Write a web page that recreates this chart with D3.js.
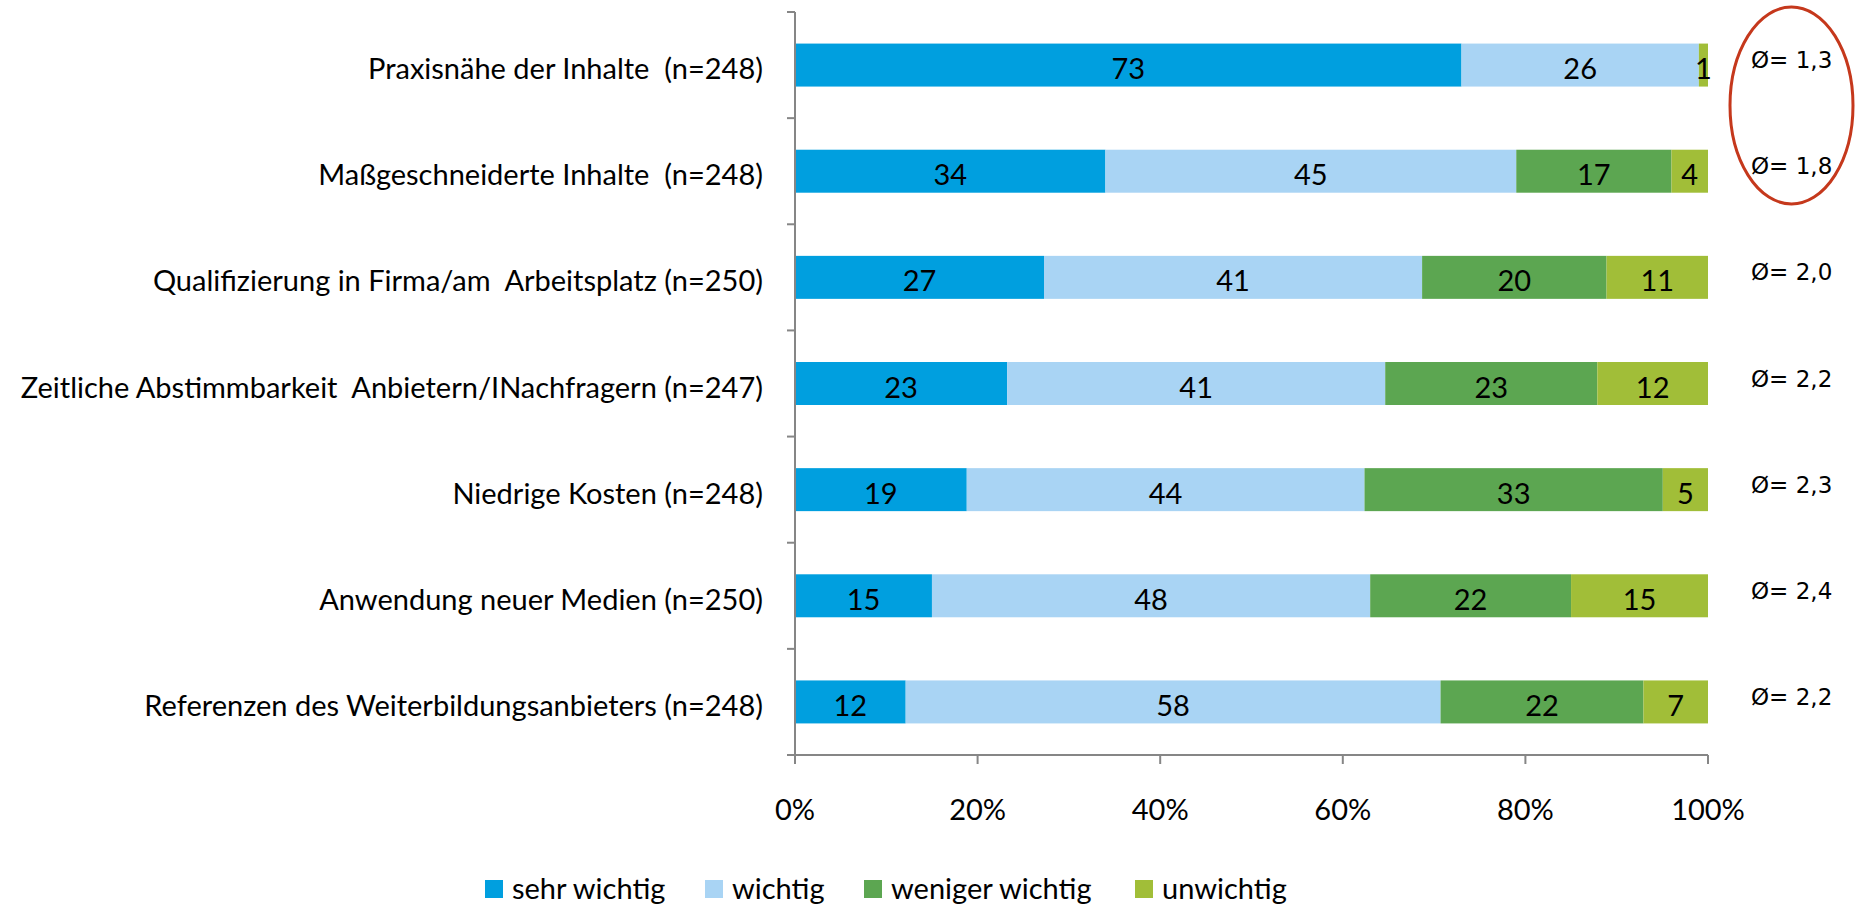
<!DOCTYPE html>
<html>
<head>
<meta charset="utf-8">
<script src="https://cdn.jsdelivr.net/npm/d3@7"></script>
<style>
  body { margin: 0; background: #fff; }
  text { font-family: Lato, "Open Sans", sans-serif; fill: #000; white-space: pre; }
</style>
</head>
<body>
<div class="chart"></div>
<script>
const categories = [
    "Praxisnähe der Inhalte  (n=248)",
    "Maßgeschneiderte Inhalte  (n=248)",
    "Qualifizierung in Firma/am  Arbeitsplatz (n=250)",
    "Zeitliche Abstimmbarkeit  Anbietern/INachfragern (n=247)",
    "Niedrige Kosten (n=248)",
    "Anwendung neuer Medien (n=250)",
    "Referenzen des Weiterbildungsanbieters (n=248)"
];
const seriesNames = ["sehr wichtig", "wichtig", "weniger wichtig", "unwichtig"];
const sehrWichtig = [73, 34, 27, 23, 19, 15, 12];
const wichtig = [26, 45, 41, 41, 44, 48, 58];
const wenigerWichtig = [0, 17, 20, 23, 33, 22, 22];
const unwichtig = [1, 4, 11, 12, 5, 15, 7];
const averages = ["1,3", "1,8", "2,0", "2,2", "2,3", "2,4", "2,2"];
const xTicks = [0, 0.2, 0.4, 0.6, 0.8, 1];
const colors = ["#009fdf", "#a9d4f4", "#5ca651", "#a1be38"];

const width = 1856;
const height = 909;
const fontSize = 29;
const svg = d3.select(".chart")
    .append("svg")
    .attr("width", width)
    .attr("height", height);

const rows = categories.map((c, i) => ({
    cat: c,
    "sehr wichtig": sehrWichtig[i],
    "wichtig": wichtig[i],
    "weniger wichtig": wenigerWichtig[i],
    "unwichtig": unwichtig[i]
}));

const stack = d3.stack()
    .keys(seriesNames)
    .offset(d3.stackOffsetExpand);
const layers = stack(rows);

const plotTop = 12, plotBottom = 755;
const x = d3.scaleLinear().domain([0, 1]).range([795, 1708]);
const y = d3.scaleBand().domain(categories).range([plotTop, plotBottom])
    .paddingInner(0.595).paddingOuter(0.2975);
const color = d3.scaleOrdinal().domain(seriesNames).range(colors);

// bars
const layer = svg.selectAll("g.layer")
    .data(layers)
    .join("g")
    .attr("class", "layer")
    .attr("fill", d => color(d.key));

layer.selectAll("rect")
    .data(d => d)
    .join("rect")
    .attr("x", d => x(d[0]))
    .attr("y", d => y(d.data.cat))
    .attr("width", d => x(d[1]) - x(d[0]))
    .attr("height", y.bandwidth());

// value labels
layer.selectAll("text")
    .data(d => d.map(v => ({v: v, key: d.key})).filter(o => o.v.data[o.key] > 0))
    .join("text")
    .attr("x", o => (x(o.v[0]) + x(o.v[1])) / 2)
    .attr("y", o => y(o.v.data.cat) + y.bandwidth() / 2 + 14)
    .attr("text-anchor", "middle")
    .attr("font-size", fontSize)
    .text(o => o.v.data[o.key]);

// axes
const axisColor = "#868686";
const step = y.step();
svg.append("line")
    .attr("x1", x(0)).attr("x2", x(0))
    .attr("y1", plotTop).attr("y2", plotBottom)
    .attr("stroke", axisColor).attr("stroke-width", 2);
svg.selectAll("line.ytick")
    .data(d3.range(categories.length + 1))
    .join("line")
    .attr("class", "ytick")
    .attr("x1", x(0) - 8).attr("x2", x(0))
    .attr("y1", i => plotTop + i * step).attr("y2", i => plotTop + i * step)
    .attr("stroke", axisColor).attr("stroke-width", 2);

svg.append("line")
    .attr("x1", x(0) - 8).attr("x2", x(1))
    .attr("y1", plotBottom).attr("y2", plotBottom)
    .attr("stroke", axisColor).attr("stroke-width", 2);
svg.selectAll("line.xtick")
    .data(xTicks)
    .join("line")
    .attr("class", "xtick")
    .attr("x1", d => x(d)).attr("x2", d => x(d))
    .attr("y1", plotBottom).attr("y2", plotBottom + 9)
    .attr("stroke", axisColor).attr("stroke-width", 2);
svg.selectAll("text.xlabel")
    .data(xTicks)
    .join("text")
    .attr("class", "xlabel")
    .attr("x", d => x(d))
    .attr("y", 820)
    .attr("text-anchor", "middle")
    .attr("font-size", fontSize)
    .text(d => d3.format(".0%")(d));

// category labels
svg.selectAll("text.cat")
    .data(categories)
    .join("text")
    .attr("class", "cat")
    .attr("x", 763)
    .attr("y", d => y(d) + y.bandwidth() / 2 + 14)
    .attr("text-anchor", "end")
    .attr("font-size", fontSize)
    .text(d => d);

// averages
svg.selectAll("text.avg")
    .data(averages)
    .join("text")
    .attr("class", "avg")
    .attr("x", 1751)
    .attr("y", (d, i) => y(categories[i]) + y.bandwidth() / 2 + 3)
    .style("font-family", "'DejaVu Sans', sans-serif")
    .attr("font-size", 23)
    .text(d => "Ø= " + d);

// red ellipse around the first two averages
svg.append("ellipse")
    .attr("cx", 1791.5).attr("cy", 105.5)
    .attr("rx", 61.5).attr("ry", 98.5)
    .attr("fill", "none")
    .attr("stroke", "#c5381c")
    .attr("stroke-width", 3);

// legend
const legendX = [485, 705, 864, 1135];
const legend = svg.selectAll("g.legend")
    .data(seriesNames)
    .join("g")
    .attr("class", "legend")
    .attr("transform", (d, i) => `translate(${legendX[i]},889)`);
legend.append("rect")
    .attr("x", 0).attr("y", -9)
    .attr("width", 18).attr("height", 18)
    .attr("fill", d => color(d));
legend.append("text")
    .attr("x", 27)
    .attr("y", 10)
    .attr("font-size", fontSize)
    .text(d => d);
</script>
</body>
</html>
